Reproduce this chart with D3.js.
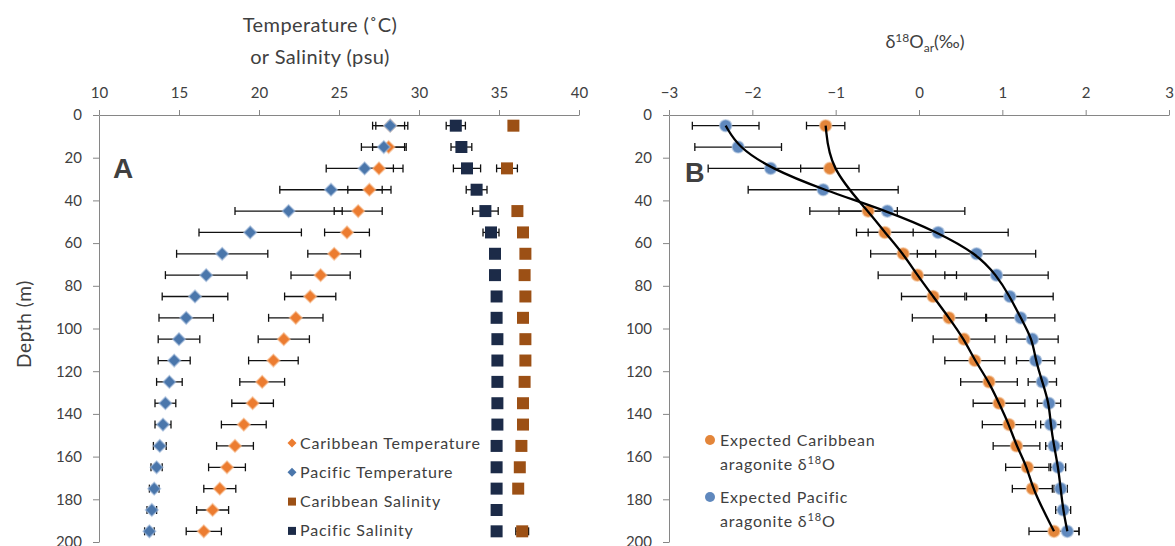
<!DOCTYPE html>
<meta charset="utf-8">
<style>
  body{ margin:0; background:#fff; }
  text{ font-family: Lato, "Open Sans", sans-serif; fill:#404040; }
  .axis path, .axis line{ stroke:#868686; }
  .axis text{ font-size:15px; fill:#404040; font-family: Lato, sans-serif; }
  .leg{ font-size:16px; letter-spacing:0.8px; }
</style>

<svg width="1175" height="546"></svg>

<script src="https://d3js.org/d3.v7.min.js"></script>
<script>
  // depths of every sample (m)
  const depths = [5, 15, 25, 35, 45, 55, 65, 75, 85, 95, 105, 115, 125, 135, 145, 155, 165, 175, 185, 195]

  // panel A: temperature (C) and salinity (psu)
  const caribTemp    = [28.2, 28.1, 27.5, 26.9, 26.2, 25.5, 24.7, 23.85, 23.2, 22.3, 21.55, 20.9, 20.2, 19.6, 19.05, 18.5, 18.0, 17.55, 17.1, 16.55]
  const caribTempErr = [0.9, 1.0, 0.9, 1.35, 1.5, 1.4, 1.65, 1.85, 1.6, 1.7, 1.6, 1.55, 1.4, 1.3, 1.4, 1.15, 1.15, 1.0, 1.0, 1.1]
  const pacTemp      = [28.2, 27.8, 26.6, 24.5, 21.85, 19.45, 17.7, 16.7, 16.0, 15.45, 15.0, 14.7, 14.4, 14.15, 14.0, 13.8, 13.6, 13.45, 13.3, 13.15]
  const pacTempErr   = [1.1, 1.4, 2.4, 3.2, 3.35, 3.2, 2.85, 2.55, 2.05, 1.7, 1.3, 1.0, 0.8, 0.65, 0.5, 0.4, 0.35, 0.3, 0.3, 0.3]
  const caribSal     = [35.9, null, 35.5, null, 36.15, 36.5, 36.65, 36.6, 36.65, 36.5, 36.65, 36.65, 36.6, 36.5, 36.5, 36.4, 36.3, 36.2, null, 36.45]
  const caribSalErr  = [0.2, null, 0.65, null, 0.2, 0.2, 0.2, 0.2, 0.2, 0.2, 0.2, 0.2, 0.2, 0.2, 0.2, 0.2, 0.2, 0.2, null, 0.4]
  const pacSal       = [32.3, 32.65, 33.0, 33.6, 34.15, 34.5, 34.75, 34.75, 34.85, 34.85, 34.9, 34.9, 34.9, 34.9, 34.9, 34.85, 34.85, 34.85, 34.85, 34.85]
  const pacSalErr    = [0.6, 0.65, 0.85, 0.65, 0.8, 0.5, 0.2, 0.2, 0.2, 0.2, 0.2, 0.2, 0.2, 0.2, 0.2, 0.2, 0.2, 0.2, 0.2, 0.2]

  // panel B: expected aragonite d18O (permil)
  const caribD18    = [-1.12, null, -1.07, null, -0.61, -0.41, -0.19, -0.02, 0.17, 0.36, 0.54, 0.67, 0.84, 0.96, 1.08, 1.17, 1.30, 1.36, null, 1.62]
  const caribD18Err = [0.23, null, 0.35, null, 0.35, 0.34, 0.39, 0.47, 0.38, 0.44, 0.37, 0.36, 0.34, 0.31, 0.32, 0.28, 0.26, 0.24, null, 0.3]
  const pacD18      = [-2.32, -2.17, -1.78, -1.15, -0.38, 0.23, 0.69, 0.93, 1.09, 1.22, 1.36, 1.40, 1.48, 1.56, 1.58, 1.62, 1.67, 1.70, 1.73, 1.78]
  const pacD18Err   = [0.4, 0.52, 0.75, 0.9, 0.93, 0.84, 0.71, 0.62, 0.52, 0.41, 0.31, 0.23, 0.17, 0.14, 0.12, 0.1, 0.09, 0.08, 0.09, 0.14]

  // tick labels
  const ticksA = [10, 15, 20, 25, 30, 35, 40]
  const ticksB = [-3, -2, -1, 0, 1, 2, 3]
  const ticksDepth = [0, 20, 40, 60, 80, 100, 120, 140, 160, 180, 200]
  const legendA = ['Caribbean Temperature', 'Pacific Temperature', 'Caribbean Salinity', 'Pacific Salinity']

  const colors = {
    caribT: '#ec7c30', pacT: '#4a76ab', caribS: '#9c5015', pacS: '#1c2b48',
    caribO: '#e3853a', pacO: '#5f88bd'
  }

  const svg = d3.select('svg')

  // scales
  const y = d3.scaleLinear().domain([0, 200]).range([115, 542])
  const xA = d3.scaleLinear().domain([10, 40]).range([99, 579])
  const xB = d3.scaleLinear().domain([-3, 3]).range([669, 1169])

  // axes
  function drawAxes(x, ticks, left){
    svg.append('g').attr('class', 'axis')
      .attr('transform', 'translate(0,' + y(0) + ')')
      .call(d3.axisTop(x).tickValues(ticks).tickSize(5).tickSizeOuter(0).tickPadding(12).tickFormat(d3.format('d')))
    svg.append('g').attr('class', 'axis')
      .attr('transform', 'translate(' + left + ',0)')
      .call(d3.axisLeft(y).tickValues(ticksDepth).tickSize(6).tickSizeOuter(0).tickPadding(11))
    svg.selectAll('.axis .domain').attr('stroke', '#868686')
  }
  drawAxes(xA, ticksA, xA(10))
  drawAxes(xB, ticksB, xB(-3))

  // turn arrays into point lists
  function pts(vals, errs){
    return depths.map((d, i) => ({depth: d, v: vals[i], e: errs[i]})).filter(p => p.v != null)
  }

  function errorBars(x, data){
    const g = svg.append('g').attr('stroke', '#111').attr('stroke-width', 1.3)
    g.selectAll('.bar').data(data).enter().append('line')
      .attr('x1', d => x(d.v - d.e)).attr('x2', d => x(d.v + d.e))
      .attr('y1', d => y(d.depth)).attr('y2', d => y(d.depth))
    g.selectAll('.capl').data(data).enter().append('line')
      .attr('x1', d => x(d.v - d.e)).attr('x2', d => x(d.v - d.e))
      .attr('y1', d => y(d.depth) - 4).attr('y2', d => y(d.depth) + 4)
    g.selectAll('.capr').data(data).enter().append('line')
      .attr('x1', d => x(d.v + d.e)).attr('x2', d => x(d.v + d.e))
      .attr('y1', d => y(d.depth) - 4).attr('y2', d => y(d.depth) + 4)
  }

  function markers(x, data, shape, size, color, rot, halo){
    svg.append('g').selectAll('path').data(data).enter().append('path')
      .attr('d', d3.symbol().type(shape).size(size))
      .attr('transform', d => 'translate(' + x(d.v) + ',' + y(d.depth) + ') rotate(' + rot + ')')
      .attr('fill', color)
      .attr('stroke', halo || 'none')
      .attr('stroke-width', 1.5)
      .attr('stroke-opacity', 0.6)
  }

  // panel A
  const cT = pts(caribTemp, caribTempErr), pT = pts(pacTemp, pacTempErr)
  const cS = pts(caribSal, caribSalErr), pS = pts(pacSal, pacSalErr)
  errorBars(xA, cT); errorBars(xA, pT); errorBars(xA, cS); errorBars(xA, pS)
  markers(xA, cT, d3.symbolSquare, 80, colors.caribT, 45, '#f6b98a')
  markers(xA, pT, d3.symbolSquare, 80, colors.pacT, 45, '#9fb8d8')
  markers(xA, cS, d3.symbolSquare, 144, colors.caribS, 0)
  markers(xA, pS, d3.symbolSquare, 144, colors.pacS, 0)

  // panel B
  const cO = pts(caribD18, caribD18Err), pO = pts(pacD18, pacD18Err)
  errorBars(xB, cO); errorBars(xB, pO)
  markers(xB, cO, d3.symbolCircle, 115, colors.caribO, 0, '#f3c39a')
  markers(xB, pO, d3.symbolCircle, 115, colors.pacO, 0, '#aec3de')

  // smooth trend lines through each profile
  function trend(data){
    svg.append('path')
      .attr('d', d3.line().x(d => xB(d.v)).y(d => y(d.depth)).curve(d3.curveBasis)(data))
      .attr('fill', 'none').attr('stroke', '#000').attr('stroke-width', 2.3)
  }
  trend(cO); trend(pO)

  // titles
  const tA = svg.append('text').attr('text-anchor', 'middle').style('font-size', '20px')
    .style('letter-spacing', '0.4px').attr('fill', '#404040')
  tA.append('tspan').attr('x', 320).attr('y', 32).text('Temperature (\u02daC)')
  tA.append('tspan').attr('x', 320).attr('y', 64).text('or Salinity (psu)')

  const tB = svg.append('text').attr('x', 925).attr('y', 48).attr('text-anchor', 'middle').style('font-size', '18px')
  tB.append('tspan').text('\u03b4')
  tB.append('tspan').attr('dy', -6).style('font-size', '12px').text('18')
  tB.append('tspan').attr('dy', 6).text('O')
  tB.append('tspan').attr('dy', 4).style('font-size', '12px').text('ar')
  tB.append('tspan').attr('dy', -4).text('(\u2030)')

  svg.append('text').attr('transform', 'translate(31,324) rotate(-90)')
    .attr('text-anchor', 'middle').style('font-size', '19px').style('letter-spacing', '0.6px').text('Depth (m)')

  svg.append('text').attr('x', 113).attr('y', 178).style('font-size', '28px')
    .style('font-weight', 'bold').style('font-family', 'Liberation Sans, Arial, sans-serif').attr('fill', '#000').text('A')
  svg.append('text').attr('x', 685).attr('y', 182).style('font-size', '27px')
    .style('font-weight', 'bold').style('font-family', 'Liberation Sans, Arial, sans-serif').attr('fill', '#000').text('B')

  // legend A
  const legShapes = [[45, colors.caribT], [45, colors.pacT], [0, colors.caribS], [0, colors.pacS]]
  const legA = svg.append('g')
  legendA.forEach((name, i) => {
    const ly = 443 + i * 29.3
    legA.append('path').attr('d', d3.symbol().type(d3.symbolSquare).size(legShapes[i][0] ? 40 : 64))
      .attr('transform', 'translate(292,' + ly + ') rotate(' + legShapes[i][0] + ')')
      .attr('fill', legShapes[i][1])
    legA.append('text').attr('class', 'leg').attr('x', 300).attr('y', ly + 5.5).text(name)
  })

  // legend B
  const legB = [['Expected Caribbean', colors.caribO, 440], ['Expected Pacific', colors.pacO, 497]]
  legB.forEach(l => {
    svg.append('circle').attr('cx', 710).attr('cy', l[2]).attr('r', 5).attr('fill', l[1])
    svg.append('text').attr('class', 'leg').attr('x', 720).attr('y', l[2] + 5.5).text(l[0])
    const t2 = svg.append('text').attr('class', 'leg').attr('x', 720).attr('y', l[2] + 30)
    t2.append('tspan').text('aragonite \u03b4')
    t2.append('tspan').attr('dy', -6).style('font-size', '11px').text('18')
    t2.append('tspan').attr('dy', 6).text('O')
  })
</script>
